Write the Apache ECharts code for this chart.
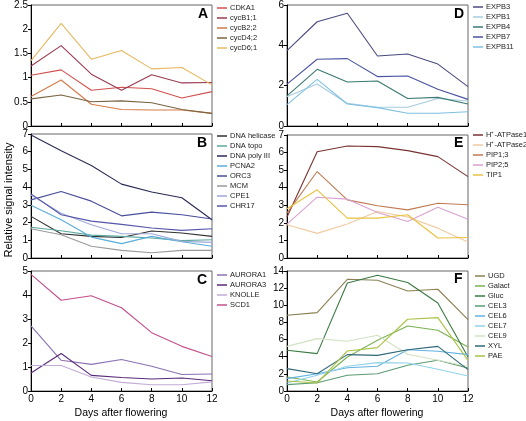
<!DOCTYPE html>
<html><head><meta charset="utf-8">
<script src="https://cdn.jsdelivr.net/npm/echarts@6/dist/echarts.min.js"></script>
<style>html,body{margin:0;padding:0;background:#fff}#c{width:526px;height:421px}</style>
</head><body><div id="c"></div>
<script>
const days = [0, 2, 4, 6, 8, 10, 12];

// Panel A
const namesA = ['CDKA1', 'cycB1;1', 'cycB2;2', 'cycD4;2', 'cycD6;1'];
const colorsA = ['#d2504e', '#9a3a50', '#d47a48', '#7a6440', '#e8b860'];
const cdka1 = [1.05, 1.16, 0.74, 0.80, 0.77, 0.58, 0.71];
const cycB11 = [1.24, 1.66, 1.07, 0.74, 1.06, 0.89, 0.90];
const cycB22 = [0.61, 0.95, 0.45, 0.34, 0.33, 0.33, 0.26];
const cycD42 = [0.56, 0.64, 0.50, 0.52, 0.48, 0.34, 0.26];
const cycD61 = [1.35, 2.12, 1.38, 1.56, 1.18, 1.21, 0.85];

// Panel B
const namesB = ['DNA helicase', 'DNA topo', 'DNA poly III', 'PCNA2', 'ORC3', 'MCM', 'CPE1', 'CHR17'];
const colorsB = ['#303030', '#5aaaa0', '#2a2a58', '#5aaed8', '#484f98', '#9a9a9a', '#9eaad8', '#5456a8'];
const dnaHelicase = [2.35, 1.37, 1.22, 1.16, 1.52, 1.41, 1.22];
const dnaTopo = [1.74, 1.54, 1.29, 1.22, 1.13, 0.98, 1.03];
const dnaPolyIII = [6.94, 6.06, 5.22, 4.17, 3.73, 3.40, 2.16];
const pcna2 = [2.98, 2.16, 1.18, 0.81, 1.22, 0.92, 0.66];
const orc3 = [3.28, 3.75, 3.21, 2.38, 2.59, 2.44, 2.20];
const mcm = [1.65, 1.31, 0.66, 0.43, 0.30, 0.43, 0.43];
const cpe1 = [3.56, 2.53, 1.88, 1.37, 1.37, 0.94, 0.88];
const chr17 = [3.62, 2.44, 2.08, 1.90, 1.69, 1.56, 1.65];

// Panel C
const namesC = ['AURORA1', 'AURORA3', 'KNOLLE', 'SCD1'];
const colorsC = ['#8a72b2', '#5a2a7a', '#c2acd8', '#c2508c'];
const aurora1 = [2.71, 1.28, 1.11, 1.31, 1.03, 0.69, 0.71];
const aurora3 = [0.75, 1.56, 0.65, 0.56, 0.50, 0.54, 0.43];
const knolle = [1.06, 1.06, 0.58, 0.36, 0.26, 0.26, 0.38];
const scd1 = [4.86, 3.78, 3.97, 3.47, 2.43, 1.86, 1.44];

// Panel D
const namesD = ['EXPB3', 'EXPB1', 'EXPB4', 'EXPB7', 'EXPB11'];
const colorsD = ['#4a4a82', '#a6cce0', '#3a7a70', '#4a52a2', '#7ec0e2'];
const expb3 = [3.74, 5.17, 5.59, 3.47, 3.57, 3.07, 1.95];
const expb1 = [1.45, 2.08, 1.12, 0.93, 0.93, 1.36, 1.24];
const expb4 = [1.49, 2.81, 2.18, 2.23, 1.36, 1.42, 1.09];
const expb7 = [2.08, 3.31, 3.34, 2.45, 2.48, 1.82, 1.32];
const expb11 = [1.06, 2.31, 1.09, 0.91, 0.63, 0.63, 0.71];

// Panel E
const namesE = ['H\u207A-ATPase1', 'H\u207A-ATPase2', 'PIP1;3', 'PIP2;5', 'TIP1'];
const colorsE = ['#7a3232', '#f0caa2', '#c07a52', '#d8a2d2', '#e8c240'];
const hAtpase1 = [2.33, 6.05, 6.37, 6.34, 6.11, 5.77, 4.63];
const hAtpase2 = [1.89, 1.40, 1.93, 2.65, 2.33, 1.70, 0.91];
const pip13 = [2.55, 4.92, 3.31, 2.97, 2.74, 3.12, 3.03];
const pip25 = [1.93, 3.46, 3.35, 2.59, 2.08, 2.89, 2.21];
const tip1 = [2.80, 3.88, 2.27, 2.27, 2.46, 1.14, 1.17];

// Panel F
const namesF = ['UGD', 'Galact', 'Gluc', 'CEL3', 'CEL6', 'CEL7', 'CEL9', 'XYL', 'PAE'];
const colorsF = ['#8a8052', '#7ab252', '#3a7a42', '#5a9a72', '#62b2e2', '#92d2ea', '#d2e2c2', '#306878', '#a8c242'];
const ugd = [8.83, 9.14, 13.03, 12.92, 11.67, 11.87, 8.33];
const galact = [1.63, 1.05, 3.97, 5.91, 7.59, 7.08, 5.14];
const gluc = [4.75, 4.36, 12.60, 13.50, 12.65, 10.27, 3.97];
const cel3 = [0.74, 0.97, 1.83, 2.02, 3.00, 3.58, 2.68];
const cel6 = [1.44, 2.02, 2.72, 2.88, 4.82, 4.63, 4.24];
const cel7 = [0.93, 1.83, 2.88, 3.31, 3.27, 2.53, 1.75];
const cel9 = [5.21, 6.11, 5.80, 6.50, 4.28, 3.58, 2.88];
const xyl = [2.61, 2.02, 4.24, 4.16, 4.82, 5.21, 2.49];
const pae = [1.17, 0.93, 4.67, 5.06, 8.37, 8.56, 3.58];

const yMax = [2.5, 7, 5, 6, 7, 14];
const yStep = [0.5, 1, 1, 2, 1, 2];
const xTicks = [0, 2, 4, 6, 8, 10, 12];

const panels = [
  {letter: 'A', names: namesA, colors: colorsA, vals: [cdka1, cycB11, cycB22, cycD42, cycD61]},
  {letter: 'B', names: namesB, colors: colorsB, vals: [dnaHelicase, dnaTopo, dnaPolyIII, pcna2, orc3, mcm, cpe1, chr17]},
  {letter: 'C', names: namesC, colors: colorsC, vals: [aurora1, aurora3, knolle, scd1]},
  {letter: 'D', names: namesD, colors: colorsD, vals: [expb3, expb1, expb4, expb7, expb11]},
  {letter: 'E', names: namesE, colors: colorsE, vals: [hAtpase1, hAtpase2, pip13, pip25, tip1]},
  {letter: 'F', names: namesF, colors: colorsF, vals: [ugd, galact, gluc, cel3, cel6, cel7, cel9, xyl, pae]}
];

const FONT = 'Liberation Sans, Arial, sans-serif';
const gridPos = [
  {left: 31, top: 5, width: 181, height: 121},
  {left: 31, top: 134, width: 181, height: 124},
  {left: 31, top: 271, width: 181, height: 120},
  {left: 287, top: 5, width: 181, height: 121},
  {left: 287, top: 135, width: 181, height: 123},
  {left: 287, top: 271, width: 181, height: 120}
];
const legendPos = [
  {left: 217, top: 3}, {left: 217, top: 131}, {left: 217, top: 270},
  {left: 473, top: 2}, {left: 473, top: 130}, {left: 475, top: 271}
];
const letterPos = [[198, 7], [197, 136], [197, 273], [454, 7], [454, 136], [454, 272]];

const grid = [], xAxis = [], yAxis = [], series = [], legend = [], graphic = [];
panels.forEach((p, i) => {
  grid.push(Object.assign({show: true, borderColor: '#666', borderWidth: 1, backgroundColor: 'transparent'}, gridPos[i]));
  const showX = (i === 2 || i === 5);
  xAxis.push({
    type: 'value', gridIndex: i, min: 0, max: 12, interval: 2,
    axisLine: {show: true, lineStyle: {color: '#000', width: 1}},
    axisTick: {show: true, inside: true, length: 3, lineStyle: {color: '#000'}},
    axisLabel: {show: showX, fontSize: 10, color: '#000', fontFamily: FONT, margin: 3,
      formatter: v => xTicks.includes(v) ? String(v) : ''},
    splitLine: {show: false}
  });
  yAxis.push({
    type: 'value', gridIndex: i, min: 0, max: yMax[i], interval: yStep[i],
    axisLine: {show: true, lineStyle: {color: '#000', width: 1}},
    axisTick: {show: true, length: 3, lineStyle: {color: '#000'}},
    axisLabel: {fontSize: 10, color: '#000', fontFamily: FONT, margin: 3},
    splitLine: {show: false}
  });
  p.names.forEach((n, k) => {
    series.push({
      type: 'line', name: n, xAxisIndex: i, yAxisIndex: i,
      data: days.map((d, j) => [d, p.vals[k][j]]),
      showSymbol: false, symbol: 'none', silent: true,
      color: p.colors[k],
      lineStyle: {width: 1.1, color: p.colors[k]},
      z: 2
    });
  });
  legend.push(Object.assign({
    orient: 'vertical', data: p.names, icon: 'rect', itemWidth: 10, itemHeight: 1.5,
    itemGap: 0, padding: 0, selectedMode: false,
    textStyle: {fontSize: 7.5, color: '#222', fontFamily: FONT, lineHeight: 10, padding: [0, 0, 0, -2]}
  }, legendPos[i]));
  graphic.push({type: 'text', left: letterPos[i][0], top: letterPos[i][1],
    style: {text: p.letter, fontSize: 14, fontWeight: 'bold', fill: '#000', fontFamily: FONT}});
});

graphic.push({type: 'text', x: 3, y: 200, rotation: Math.PI / 2, originX: 0, originY: 0,
  style: {text: 'Relative signal intensity', fontSize: 11, fill: '#000', fontFamily: FONT,
    align: 'center', verticalAlign: 'top'}});
graphic.push({type: 'text', x: 121, y: 408, style: {text: 'Days after flowering', fontSize: 10.5, fill: '#000', fontFamily: FONT, align: 'center'}});
graphic.push({type: 'text', x: 377, y: 408, style: {text: 'Days after flowering', fontSize: 10.5, fill: '#000', fontFamily: FONT, align: 'center'}});

const chart = echarts.init(document.getElementById('c'), null, {renderer: 'canvas'});
chart.setOption({animation: false, grid, xAxis, yAxis, series, legend, graphic});
</script></body></html>
